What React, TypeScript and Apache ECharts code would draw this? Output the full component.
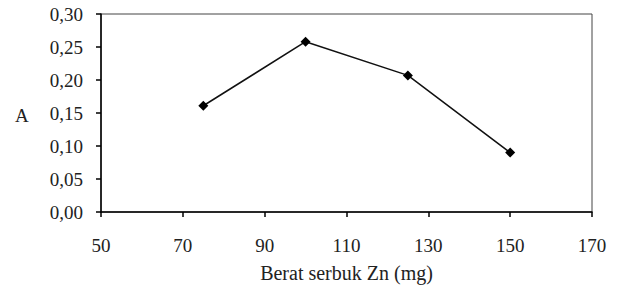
import React, { useEffect, useRef } from "react";
import * as echarts from "echarts";

const xValues = [75, 100, 125, 150];
const yValues = [0.161, 0.258, 0.207, 0.09];
const xTitle = "Berat serbuk Zn (mg)";
const yTitle = "A";

export default function App() {
  const ref = useRef<HTMLDivElement>(null);
  useEffect(() => {
    const chart = echarts.init(ref.current!, null, { renderer: "svg" });
    const font = "Liberation Serif, Times New Roman, serif";
    const fs = 19;
    chart.setOption({
      animation: false,
      backgroundColor: "#fff",
      textStyle: { fontFamily: font },
      grid: {
        left: 101,
        right: 27,
        top: 14,
        bottom: 74,
        show: true,
        borderColor: "#444",
        borderWidth: 1,
      },
      xAxis: {
        type: "value",
        min: 50,
        max: 170,
        interval: 20,
        name: xTitle,
        nameLocation: "middle",
        nameGap: 51,
        nameTextStyle: { fontFamily: font, fontSize: 20, color: "#222" },
        axisLine: { show: true, onZero: false, lineStyle: { color: "#000", width: 1.5 } },
        axisTick: { show: true, inside: false, length: 5, lineStyle: { color: "#000", width: 1.5 } },
        axisLabel: { fontFamily: font, fontSize: fs, color: "#222", margin: 24 },
        splitLine: { show: false },
      },
      yAxis: {
        type: "value",
        min: 0,
        max: 0.3,
        interval: 0.05,
        axisLine: { show: true, lineStyle: { color: "#000", width: 1.5 } },
        axisTick: { show: true, inside: false, length: 5, lineStyle: { color: "#000", width: 1.5 } },
        axisLabel: {
          fontFamily: font,
          fontSize: fs,
          color: "#222",
          margin: 18,
          formatter: (v: number) => v.toFixed(2).replace(".", ","),
        },
        splitLine: { show: false },
      },
      graphic: [
        {
          type: "text",
          left: 15,
          top: 106,
          style: { text: yTitle, fontFamily: font, fontSize: fs, fill: "#222" },
        },
      ],
      series: [
        {
          type: "line",
          data: xValues.map((x, i) => [x, yValues[i]]),
          symbol: "diamond",
          symbolSize: 10,
          lineStyle: { color: "#111", width: 1.5 },
          itemStyle: { color: "#000" },
        },
      ],
    });
    return () => chart.dispose();
  }, []);
  return <div ref={ref} style={{ position: "absolute", left: 0, top: 0, width: 619, height: 288 }} />;
}
